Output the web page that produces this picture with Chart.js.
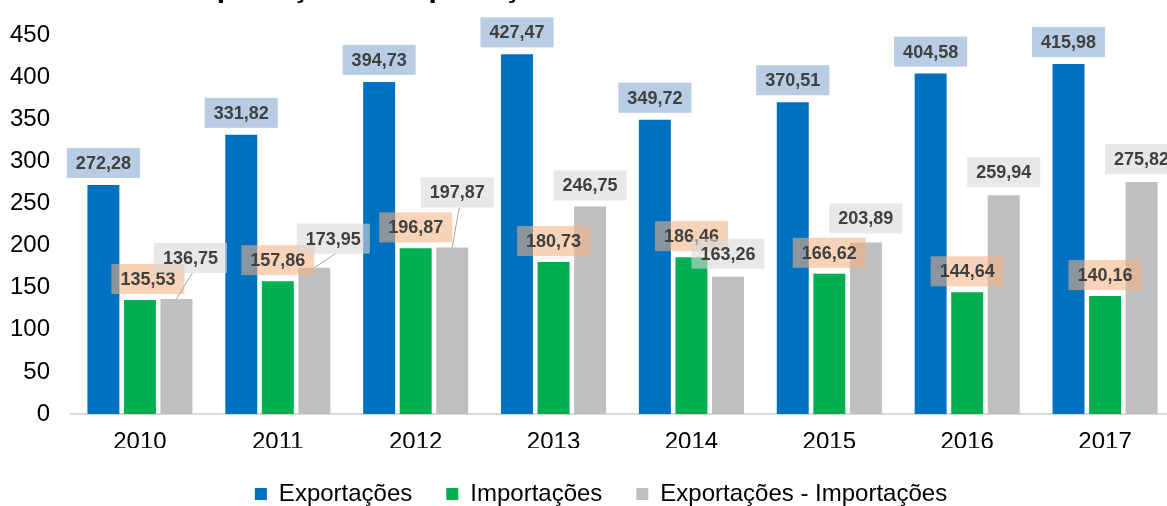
<!DOCTYPE html>
<html lang="pt-BR">
<head>
    <meta charset="UTF-8">
    <title>Exportações e Importações</title>
    <script src="https://cdn.jsdelivr.net/npm/chart.js"></script>
    <style>
        body, html {
            margin: 0;
            padding: 0;
            background: #fff;
            overflow: hidden;
        }
        .chart-box {
            width: 1174px;
            height: 516px;
            position: relative;
        }
    </style>
</head>
<body>
    <div class="chart-box">
        <canvas id="comercioChart"></canvas>
    </div>

    <script>
        // dados
        const anos = ['2010', '2011', '2012', '2013', '2014', '2015', '2016', '2017'];
        const exportacoes = [272.28, 331.82, 394.73, 427.47, 349.72, 370.51, 404.58, 415.98];
        const importacoes = [135.53, 157.86, 196.87, 180.73, 186.46, 166.62, 144.64, 140.16];
        const saldo = [136.75, 173.95, 197.87, 246.75, 163.26, 203.89, 259.94, 275.82];
        const ticksY = [0, 50, 100, 150, 200, 250, 300, 350, 400, 450];

        const fonte = '"Liberation Sans", Arial, sans-serif';

        // deslocamento dos rótulos (dx, dy em px a partir do topo da barra)
        const rotuloPos = [
            { bg: '#B8CCE4', shift: anos.map(() => [0, -22]) },
            { bg: 'rgba(244, 177, 131, 0.57)', shift: anos.map((a, i) => [i === 0 ? 8 : 0, -21]) },
            { bg: 'rgba(217, 217, 217, 0.6)', shift: [[14, -41], [19, -29], [5, -55], [0, -21], [0, -23], [0, -24], [0, -23], [0, -23]] }
        ];

        const fmt = v => v.toFixed(2).replace('.', ',');

        const rotulosPlugin = {
            id: 'rotulos',
            afterDatasetsDraw(chart) {
                const ctx = chart.ctx;
                ctx.save();
                ctx.font = 'bold 18px ' + fonte;
                ctx.textAlign = 'center';
                ctx.textBaseline = 'middle';
                chart.data.datasets.forEach((ds, di) => {
                    const meta = chart.getDatasetMeta(di);
                    meta.data.forEach((bar, i) => {
                        const [dx, dy] = rotuloPos[di].shift[i];
                        const cx = bar.x + dx;
                        const cy = bar.y + dy;
                        const txt = fmt(ds.data[i]);
                        const w = ctx.measureText(txt).width + 18;
                        const h = 30;
                        if (dy < -28) {
                            // linha guia
                            ctx.strokeStyle = '#A6A6A6';
                            ctx.lineWidth = 1;
                            ctx.beginPath();
                            ctx.moveTo(bar.x, bar.y);
                            ctx.lineTo(cx + 2, cy + h / 2);
                            ctx.stroke();
                        }
                        ctx.fillStyle = rotuloPos[di].bg;
                        ctx.fillRect(cx - w / 2, cy - h / 2, w, h);
                        ctx.fillStyle = '#404040';
                        ctx.fillText(txt, cx, cy + 1);
                    });
                });
                ctx.restore();
            }
        };

        // título (cortado no topo)
        const tituloPlugin = {
            id: 'tituloCortado',
            afterDraw(chart) {
                const ctx = chart.ctx;
                ctx.save();
                ctx.font = 'bold 30px ' + fonte;
                ctx.fillStyle = '#000';
                ctx.textAlign = 'left';
                ctx.textBaseline = 'alphabetic';
                ctx.fillText('Exportações e Importações', 180, -3);
                ctx.restore();
            }
        };

        // legenda um pouco à direita, como no original
        const legendaShift = {
            id: 'legendaShift',
            afterLayout(chart) {
                if (chart.legend) {
                    chart.legend.left += 28;
                }
            }
        };

        const ctx = document.getElementById('comercioChart').getContext('2d');
        new Chart(ctx, {
            type: 'bar',
            data: {
                labels: anos,
                datasets: [
                    { label: 'Exportações', data: exportacoes, backgroundColor: '#0070C0' },
                    { label: 'Importações', data: importacoes, backgroundColor: '#00B050' },
                    { label: 'Exportações - Importações', data: saldo, backgroundColor: '#BFBFBF' }
                ]
            },
            options: {
                responsive: true,
                maintainAspectRatio: false,
                animation: false,
                categoryPercentage: 0.795,
                barPercentage: 0.875,
                layout: { padding: { top: 20, bottom: 0 } },
                plugins: {
                    title: { display: false },
                    tooltip: { enabled: false },
                    legend: {
                        position: 'bottom',
                        labels: {
                            boxWidth: 12,
                            boxHeight: 12,
                            padding: 34,
                            color: '#000',
                            font: { family: fonte, size: 24 }
                        }
                    }
                },
                scales: {
                    x: {
                        afterFit: axis => { axis.height = 34; },
                        grid: { display: false },
                        border: { display: true, color: '#D9D9D9', width: 2 },
                        ticks: { color: '#000', padding: 6, font: { family: fonte, size: 24 } }
                    },
                    y: {
                        min: 0,
                        max: 450,
                        afterBuildTicks: axis => { axis.ticks = ticksY.map(v => ({ value: v })); },
                        afterFit: axis => { axis.width = 71; },
                        grid: { display: false, drawTicks: false },
                        border: { display: false },
                        ticks: { color: '#000', padding: 21, font: { family: fonte, size: 24 } }
                    }
                }
            },
            plugins: [rotulosPlugin, tituloPlugin, legendaShift]
        });
    </script>
</body>
</html>
